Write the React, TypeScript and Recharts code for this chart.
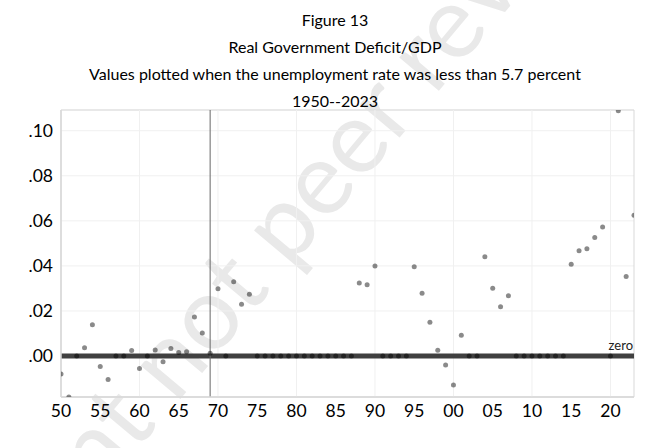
import React from "react";
import {
  ScatterChart,
  Scatter,
  XAxis,
  YAxis,
  CartesianGrid,
  ReferenceLine,
  ReferenceArea,
} from "recharts";

// years 1950..2023
const years = [
  1950, 1951, 1952, 1953, 1954, 1955, 1956, 1957, 1958, 1959,
  1960, 1961, 1962, 1963, 1964, 1965, 1966, 1967, 1968, 1969,
  1970, 1971, 1972, 1973, 1974, 1975, 1976, 1977, 1978, 1979,
  1980, 1981, 1982, 1983, 1984, 1985, 1986, 1987, 1988, 1989,
  1990, 1991, 1992, 1993, 1994, 1995, 1996, 1997, 1998, 1999,
  2000, 2001, 2002, 2003, 2004, 2005, 2006, 2007, 2008, 2009,
  2010, 2011, 2012, 2013, 2014, 2015, 2016, 2017, 2018, 2019,
  2020, 2021, 2022, 2023,
];

// real deficit / GDP, set to 0 when unemployment was 5.7 percent or more
const deficit = [
  -0.008, -0.0182, 0, 0.0037, 0.0139, -0.0047, -0.0104, 0, 0, 0.0024,
  -0.0056, 0, 0.0027, -0.0025, 0.0033, 0.0016, 0.0019, 0.0173, 0.0102, 0.0012,
  0.0298, 0, 0.033, 0.023, 0.0274, 0, 0, 0, 0, 0,
  0, 0, 0, 0, 0, 0, 0, 0, 0.0324, 0.0316,
  0.0399, 0, 0, 0, 0, 0.0396, 0.0279, 0.015, 0.0025, -0.004,
  -0.0129, 0.0092, 0, 0, 0.0441, 0.0301, 0.0219, 0.0268, 0, 0,
  0, 0, 0, 0, 0, 0.0407, 0.0467, 0.0476, 0.0526, 0.0573,
  0, 0.1089, 0.0353, 0.0625,
];

const xTicks = [1950, 1955, 1960, 1965, 1970, 1975, 1980, 1985, 1990, 1995, 2000, 2005, 2010, 2015, 2020];
const xGrid = [1960, 1970, 1980, 1990, 2000, 2010, 2020];
const yTicks = [0, 0.02, 0.04, 0.06, 0.08, 0.1];
const yDomain = [-0.0182, 0.1092];
const markYear = 1969;

const titles = [
  "Figure 13",
  "Real Government Deficit/GDP",
  "Values plotted when the unemployment rate was less than 5.7 percent",
  "1950--2023",
];

const data = years.map((year, i) => ({ year, value: deficit[i] }));

const FONT = "Lato, 'Open Sans', sans-serif";

const Dot = (props: any) => (
  <circle cx={props.cx} cy={props.cy} r={2.5} fill="#000" fillOpacity={0.46} />
);

const ZeroLabel = (props: any) => {
  const vb = props.viewBox || {};
  return (
    <text x={vb.x + vb.width - 1} y={vb.y - 6} textAnchor="end" fontSize={13} fontFamily={FONT} fill="#222">
      zero
    </text>
  );
};

export default function App() {
  return (
    <div style={{ position: "absolute", left: 0, top: 0, width: 670, height: 448, background: "#fff" }}>
      <svg width={670} height={448} style={{ position: "absolute", left: 0, top: 0 }}>
        <text
          x={312}
          y={242}
          textAnchor="middle"
          fontSize={102}
          fontFamily={FONT}
          fill="#e9e9e9"
          transform="rotate(-50 312 242)"
        >
          Preprint not peer reviewed
        </text>
      </svg>
      <div style={{ position: "absolute", left: 0, top: 0 }}>
        <ScatterChart width={670} height={448} margin={{ top: 110, right: 36, bottom: 0, left: 0 }}>
          <CartesianGrid vertical={false} stroke="#f0f0f0" />
          {xGrid.map((g) => (
            <ReferenceLine key={g} x={g} stroke="#f0f0f0" />
          ))}
          <XAxis
            type="number"
            dataKey="year"
            domain={[1950, 2023]}
            ticks={xTicks}
            tickFormatter={(v: number) => String(v % 100).padStart(2, "0")}
            height={51}
            tickLine={false}
            tickSize={0}
            tickMargin={8}
            axisLine={{ stroke: "#d9d9d9", strokeWidth: 1.5 }}
            tick={{ fontSize: 17.5, fill: "#000", fontFamily: FONT }}
            allowDataOverflow
          />
          <YAxis
            type="number"
            dataKey="value"
            domain={yDomain}
            ticks={yTicks}
            tickFormatter={(v: number) => v.toFixed(2).replace(/^0/, "")}
            width={61}
            tickLine={false}
            tickSize={0}
            tickMargin={8}
            axisLine={{ stroke: "#d9d9d9", strokeWidth: 1.5 }}
            tick={{ fontSize: 17.5, fill: "#000", fontFamily: FONT }}
            allowDataOverflow
          />
          <ReferenceArea x1={1950} x2={2023} y1={yDomain[0]} y2={yDomain[1]} fill="none" stroke="#d9d9d9" />
          <ReferenceLine y={0} stroke="#404040" strokeWidth={5} label={<ZeroLabel />} />
          <ReferenceLine x={markYear} stroke="#666" strokeWidth={1} />
          <Scatter data={data} shape={<Dot />} isAnimationActive={false} />
        </ScatterChart>
      </div>
      <svg width={670} height={110} style={{ position: "absolute", left: 0, top: 0 }}>
        {titles.map((t, i) => (
          <text
            key={t}
            x={335}
            y={26 + i * 27}
            textAnchor="middle"
            fontSize={16}
            fontFamily={FONT}
            fill="#000"
          >
            {t}
          </text>
        ))}
      </svg>
    </div>
  );
}
